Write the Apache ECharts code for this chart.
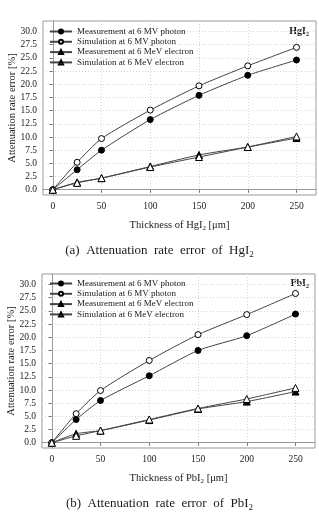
<!DOCTYPE html>
<html>
<head>
<meta charset="utf-8">
<script src="https://cdn.jsdelivr.net/npm/echarts@6/dist/echarts.min.js"></script>
<style>
  html, body { margin: 0; padding: 0; background: #fff; }
  #chart { width: 319px; height: 522px; }
</style>
</head>
<body>
<div id="chart"></div>
<script>
// thickness of the detector layer (um)
const thickness = [0, 25, 50, 100, 150, 200, 250]
const xTicks = [0, 50, 100, 150, 200, 250]
const yTicks = [0, 2.5, 5, 7.5, 10, 12.5, 15, 17.5, 20, 22.5, 25, 27.5, 30]

const seriesNames = [
  'Measurement at 6 MV photon',
  'Simulation at 6 MV photon',
  'Measurement at 6 MeV electron',
  'Simulation at 6 MeV electron'
]

// (a) HgI2
const hgiMeasPhoton = [0, 3.8, 7.5, 13.3, 17.9, 21.7, 24.6]
const hgiSimPhoton = [0, 5.2, 9.7, 15.1, 19.7, 23.5, 27.0]
const hgiMeasElectron = [0, 1.4, 2.2, 4.4, 6.6, 8.1, 9.8]
const hgiSimElectron = [0, 1.3, 2.2, 4.3, 6.2, 8.1, 10.1]

// (b) PbI2
const pbiMeasPhoton = [0, 4.4, 8.0, 12.7, 17.5, 20.3, 24.4]
const pbiSimPhoton = [0, 5.5, 9.9, 15.6, 20.5, 24.3, 28.3]
const pbiMeasElectron = [0, 1.7, 2.3, 4.3, 6.4, 7.8, 9.7]
const pbiSimElectron = [0, 1.3, 2.3, 4.4, 6.5, 8.3, 10.4]

const font = 'Liberation Serif'
const ink = '#1a1a1a'
const lineColor = '#444'

const chart = echarts.init(document.getElementById('chart'), null, { renderer: 'canvas' })

const subRich = {
  sub: { fontSize: 7, fontFamily: font, color: ink, verticalAlign: 'bottom', lineHeight: 14 }
}

const markers = [
  { symbol: 'circle', size: 6, fill: '#000' },
  { symbol: 'circle', size: 6, fill: '#fff' },
  { symbol: 'triangle', size: 7, fill: '#000' },
  { symbol: 'triangle', size: 7, fill: '#fff' }
]

const makeAxes = (idx, material) => {
  const xAxis = {
    gridIndex: idx,
    type: 'value',
    min: -10,
    max: 270,
    name: 'Thickness of ' + material + '{sub|2} [μm]',
    nameLocation: 'middle',
    nameGap: 23,
    nameTextStyle: { fontFamily: font, fontSize: 10.5, color: ink, lineHeight: 14, rich: subRich },
    axisLine: { show: true, lineStyle: { color: '#999' } },
    axisTick: { show: true, inside: false, length: 3, customValues: xTicks, lineStyle: { color: '#777' } },
    axisLabel: { customValues: xTicks, fontFamily: font, fontSize: 9.5, color: ink, margin: 6 },
    splitLine: { show: true, lineStyle: { color: '#d4d4d4', type: [1, 2] } }
  }
  const yAxis = {
    gridIndex: idx,
    type: 'value',
    min: -1,
    max: 32,
    name: 'Attenuation rate error [%]',
    nameLocation: 'middle',
    nameGap: 25,
    nameMoveOverlap: false,
    nameTextStyle: { fontFamily: font, fontSize: 10.5, color: ink },
    axisLine: { show: true, lineStyle: { color: '#999' } },
    axisTick: { show: true, inside: false, length: 3, customValues: yTicks, lineStyle: { color: '#777' } },
    axisLabel: {
      customValues: yTicks,
      fontFamily: font, fontSize: 9.5, color: ink, margin: 6,
      formatter: v => v.toFixed(1)
    },
    splitLine: { show: true, lineStyle: { color: '#d4d4d4', type: [1, 2] } }
  }
  return { xAxis, yAxis }
}

const makeSeries = (idx, datasets) => datasets.map((vals, i) => ({
  name: seriesNames[i],
  type: 'line',
  xAxisIndex: idx,
  yAxisIndex: idx,
  data: thickness.map((t, k) => [t, vals[k]]),
  smooth: 0.2,
  symbol: markers[i].symbol,
  symbolSize: markers[i].size,
  lineStyle: { color: lineColor, width: 1 },
  itemStyle: { color: markers[i].fill, borderColor: '#000', borderWidth: 1 },
  z: 3 + i
}))

const axesA = makeAxes(0, 'HgI')
const axesB = makeAxes(1, 'PbI')

const makeLegend = (top) => ({
  orient: 'vertical',
  left: 49,
  top: top,
  padding: 0,
  itemGap: 1.3,
  itemWidth: 22,
  itemHeight: 5,
  data: seriesNames,
  selectedMode: false,
  textStyle: { fontFamily: font, fontSize: 9, color: ink, padding: [0, 0, 0, 0] }
})

const gridBase = { containLabel: false, outerBoundsMode: 'none', show: true, borderColor: '#999', borderWidth: 1 }

const option = {
  backgroundColor: '#fff',
  animation: false,
  grid: [
    Object.assign({ left: 43, top: 21, width: 273, height: 174 }, gridBase),
    Object.assign({ left: 42, top: 274, width: 273, height: 174 }, gridBase)
  ],
  legend: [makeLegend(27), makeLegend(279)],
  xAxis: [axesA.xAxis, axesB.xAxis],
  yAxis: [axesA.yAxis, axesB.yAxis],
  series: [
    ...makeSeries(0, [hgiMeasPhoton, hgiSimPhoton, hgiMeasElectron, hgiSimElectron]),
    ...makeSeries(1, [pbiMeasPhoton, pbiSimPhoton, pbiMeasElectron, pbiSimElectron])
  ],
  graphic: [
    {
      type: 'text', right: 10, top: 26,
      style: { text: 'HgI{s|2}', font: 'bold 10px ' + font, fill: ink,
        rich: { s: { fontSize: 6, fontWeight: 'bold', fontFamily: font, verticalAlign: 'bottom', lineHeight: 13 } } }
    },
    {
      type: 'text', right: 10, top: 278,
      style: { text: 'PbI{s|2}', font: 'bold 10px ' + font, fill: ink,
        rich: { s: { fontSize: 6, fontWeight: 'bold', fontFamily: font, verticalAlign: 'bottom', lineHeight: 13 } } }
    },
    {
      type: 'text', left: 'center', top: 244,
      style: { text: '(a)  Attenuation  rate  error  of  HgI{s|2}', font: '13px ' + font, fill: ink,
        rich: { s: { fontSize: 9, fontFamily: font, verticalAlign: 'bottom', lineHeight: 18 } } }
    },
    {
      type: 'text', left: 'center', top: 497,
      style: { text: '(b)  Attenuation  rate  error  of  PbI{s|2}', font: '13px ' + font, fill: ink,
        rich: { s: { fontSize: 9, fontFamily: font, verticalAlign: 'bottom', lineHeight: 18 } } }
    }
  ]
}

chart.setOption(option)
</script>
</body>
</html>
